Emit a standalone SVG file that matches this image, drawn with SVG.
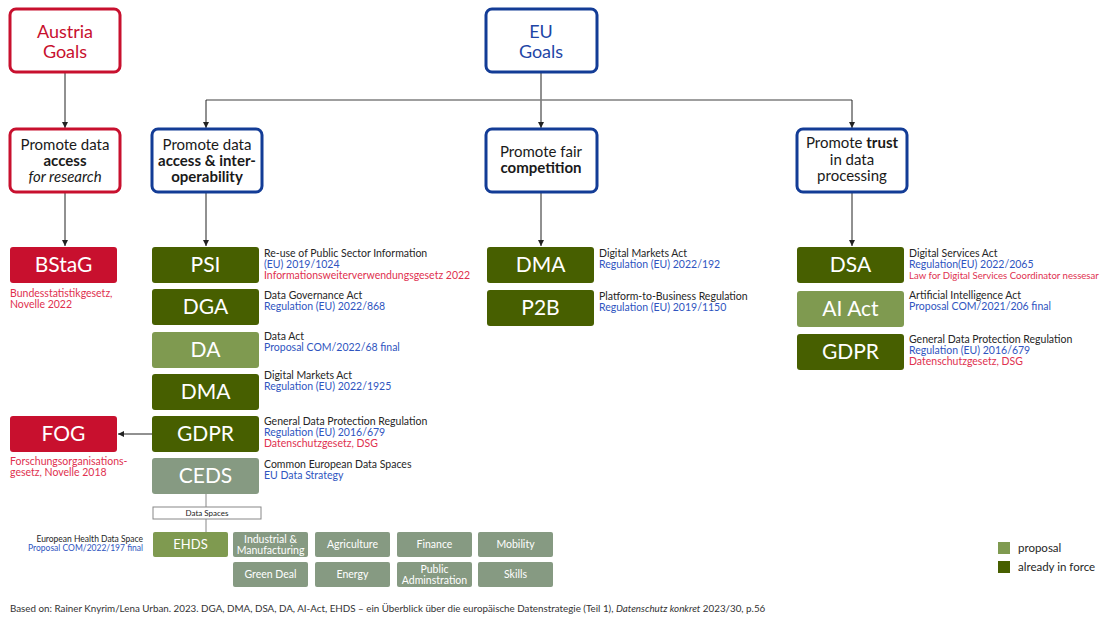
<svg xmlns="http://www.w3.org/2000/svg" width="1114" height="618" viewBox="0 0 1114 618">
<style>
text{font-family:Lato,"Open Sans",sans-serif}
.goal{fill:#fff;stroke-width:3}
.red{stroke:#c8102e}
.blue{stroke:#133c96}
.gt{font-size:18px;text-anchor:middle}
.gr{fill:#c8102e}
.gb{fill:#1f46a6}
.pt{font-size:15px;text-anchor:middle;fill:#1a1a1a}
.b{font-weight:bold}
.dk{fill:#475f00}
.lt{fill:#7f9a50}
.gy{fill:#869a82}
.rd{fill:#c8102e}
.lw{font-size:21px;fill:#fff;text-anchor:middle}
.lb{font-size:10.5px}
.k{fill:#262626}
.bl{fill:#2f55c0}
.rt{fill:#e0314f}
.ds{font-size:10.5px;fill:#fff;text-anchor:middle}
.con{stroke:#222;stroke-width:1;fill:none}
</style>
<defs>
<marker id="ah" viewBox="0 0 10 10" refX="10" refY="5" markerWidth="6" markerHeight="6" orient="auto" markerUnits="userSpaceOnUse">
<path d="M0,0 L10,5 L0,10 z" fill="#222"/>
</marker>
</defs>
<rect width="1114" height="618" fill="#fff"/>

<g id="connectors">
<path class="con" d="M65,72 V128" marker-end="url(#ah)"/>
<path class="con" d="M541,72 V128" marker-end="url(#ah)"/>
<path d="M206,100 H852" stroke="#7f7f7f" stroke-width="1.5" fill="none"/>
<path class="con" d="M206,100 V128" marker-end="url(#ah)"/>
<path class="con" d="M852,100 V128" marker-end="url(#ah)"/>
<path class="con" d="M65,192 V246" marker-end="url(#ah)"/>
<path class="con" d="M206,192 V246" marker-end="url(#ah)"/>
<path class="con" d="M541,192 V246" marker-end="url(#ah)"/>
<path class="con" d="M852,192 V246" marker-end="url(#ah)"/>
<path class="con" d="M152,434 H118" marker-end="url(#ah)"/>
<path d="M206,494 V507 M206,519 V532" stroke="#888" stroke-width="1" fill="none"/>
</g>

<g id="austria-goals">
<rect class="goal red" x="10" y="9" width="110" height="63" rx="6"/>
<text class="gt gr" x="65" y="38">Austria</text>
<text class="gt gr" x="65" y="58">Goals</text>
</g>
<g id="eu-goals">
<rect class="goal blue" x="486" y="9" width="111" height="63" rx="6"/>
<text class="gt gb" x="541" y="38">EU</text>
<text class="gt gb" x="541" y="58">Goals</text>
</g>

<g id="goal-access-research">
<rect class="goal red" x="10" y="129" width="110" height="63" rx="6"/>
<text class="pt" x="65" y="150">Promote data</text>
<text class="pt b" x="65" y="166">access</text>
<text class="pt" x="65" y="182" font-style="italic">for research</text>
</g>
<g id="goal-access-interop">
<rect class="goal blue" x="152" y="129" width="110" height="63" rx="6"/>
<text class="pt" x="207" y="150">Promote data</text>
<text class="pt b" x="207" y="166">access &amp; inter-</text>
<text class="pt b" x="207" y="182">operability</text>
</g>
<g id="goal-competition">
<rect class="goal blue" x="486" y="129" width="111" height="63" rx="6"/>
<text class="pt" x="541" y="157">Promote fair</text>
<text class="pt b" x="541" y="173">competition</text>
</g>
<g id="goal-trust">
<rect class="goal blue" x="797" y="129" width="110" height="63" rx="6"/>
<text class="pt" x="852" y="148">Promote <tspan class="b">trust</tspan></text>
<text class="pt" x="852" y="165">in data</text>
<text class="pt" x="852" y="181">processing</text>
</g>

<g id="bstag">
<rect class="rd" x="10" y="247" width="107" height="36" rx="3"/>
<text class="lw" x="63.5" y="272">BStaG</text>
<text class="lb rt" x="10" y="297">Bundesstatistikgesetz,</text>
<text class="lb rt" x="10" y="308">Novelle 2022</text>
</g>
<g id="fog">
<rect class="rd" x="10" y="416" width="107" height="36" rx="3"/>
<text class="lw" x="63.5" y="441">FOG</text>
<text class="lb rt" x="10" y="465">Forschungsorganisations-</text>
<text class="lb rt" x="10" y="476">gesetz, Novelle 2018</text>
</g>

<g id="psi">
<rect class="dk" x="152" y="247" width="107" height="36" rx="3"/>
<text class="lw" x="205.5" y="272">PSI</text>
<text class="lb k" x="264" y="257">Re-use of Public Sector Information</text>
<text class="lb bl" x="264" y="268">(EU) 2019/1024</text>
<text class="lb rt" x="264" y="279">Informationsweiterverwendungsgesetz 2022</text>
</g>
<g id="dga">
<rect class="dk" x="152" y="289" width="107" height="36" rx="3"/>
<text class="lw" x="205.5" y="314">DGA</text>
<text class="lb k" x="264" y="299">Data Governance Act</text>
<text class="lb bl" x="264" y="310">Regulation (EU) 2022/868</text>
</g>
<g id="da">
<rect class="lt" x="152" y="332" width="107" height="36" rx="3"/>
<text class="lw" x="205.5" y="357">DA</text>
<text class="lb k" x="264" y="340">Data Act</text>
<text class="lb bl" x="264" y="351">Proposal COM/2022/68 final</text>
</g>
<g id="dma-1">
<rect class="dk" x="152" y="374" width="107" height="36" rx="3"/>
<text class="lw" x="205.5" y="399">DMA</text>
<text class="lb k" x="264" y="379">Digital Markets Act</text>
<text class="lb bl" x="264" y="390">Regulation (EU) 2022/1925</text>
</g>
<g id="gdpr-1">
<rect class="dk" x="152" y="416" width="107" height="36" rx="3"/>
<text class="lw" x="205.5" y="441">GDPR</text>
<text class="lb k" x="264" y="425">General Data Protection Regulation</text>
<text class="lb bl" x="264" y="436">Regulation (EU) 2016/679</text>
<text class="lb rt" x="264" y="447">Datenschutzgesetz, DSG</text>
</g>
<g id="ceds">
<rect class="gy" x="152" y="458" width="107" height="36" rx="3"/>
<text class="lw" x="205.5" y="483">CEDS</text>
<text class="lb k" x="264" y="468">Common European Data Spaces</text>
<text class="lb bl" x="264" y="479">EU Data Strategy</text>
</g>

<g id="dma-2">
<rect class="dk" x="487" y="247" width="107" height="36" rx="3"/>
<text class="lw" x="540.5" y="272">DMA</text>
<text class="lb k" x="599" y="257">Digital Markets Act</text>
<text class="lb bl" x="599" y="268">Regulation (EU) 2022/192</text>
</g>
<g id="p2b">
<rect class="dk" x="487" y="290" width="107" height="36" rx="3"/>
<text class="lw" x="540.5" y="315">P2B</text>
<text class="lb k" x="599" y="300">Platform-to-Business Regulation</text>
<text class="lb bl" x="599" y="311">Regulation (EU) 2019/1150</text>
</g>

<g id="dsa">
<rect class="dk" x="797" y="247" width="107" height="36" rx="3"/>
<text class="lw" x="850.5" y="272">DSA</text>
<text class="lb k" x="909" y="257">Digital Services Act</text>
<text class="lb bl" x="909" y="268">Regulation(EU) 2022/2065</text>
<text class="rt" x="909" y="279" font-size="9.6">Law for Digital Services Coordinator nessesar</text>
</g>
<g id="ai-act">
<rect class="lt" x="797" y="291" width="107" height="36" rx="3"/>
<text class="lw" x="850.5" y="316">AI Act</text>
<text class="lb k" x="909" y="299">Artificial Intelligence Act</text>
<text class="lb bl" x="909" y="310">Proposal COM/2021/206 final</text>
</g>
<g id="gdpr-2">
<rect class="dk" x="797" y="334" width="107" height="36" rx="3"/>
<text class="lw" x="850.5" y="359">GDPR</text>
<text class="lb k" x="909" y="343">General Data Protection Regulation</text>
<text class="lb bl" x="909" y="354">Regulation (EU) 2016/679</text>
<text class="lb rt" x="909" y="365">Datenschutzgesetz, DSG</text>
</g>

<g id="data-spaces">
<rect x="153" y="507" width="108" height="12" fill="#fff" stroke="#888" stroke-width="1"/>
<text x="207" y="516" font-size="8" text-anchor="middle" fill="#222">Data Spaces</text>
</g>
<g id="ehds">
<rect class="lt" x="153" y="532" width="75" height="25" rx="2"/>
<text x="190.5" y="549" font-size="13" fill="#fff" text-anchor="middle">EHDS</text>
<text x="143" y="542" font-size="8.5" text-anchor="end" fill="#262626">European Health Data Space</text>
<text x="143" y="551" font-size="8.5" text-anchor="end" fill="#2f55c0">Proposal COM/2022/197 final</text>
</g>
<g id="ds-industrial"><rect class="gy" x="233" y="532" width="75" height="25" rx="2"/><text class="ds" x="270.5" y="543">Industrial &amp;</text><text class="ds" x="270.5" y="554">Manufacturing</text></g>
<g id="ds-agriculture"><rect class="gy" x="315" y="532" width="75" height="25" rx="2"/><text class="ds" x="352.5" y="548">Agriculture</text></g>
<g id="ds-finance"><rect class="gy" x="397" y="532" width="75" height="25" rx="2"/><text class="ds" x="434.5" y="548">Finance</text></g>
<g id="ds-mobility"><rect class="gy" x="478" y="532" width="75" height="25" rx="2"/><text class="ds" x="515.5" y="548">Mobility</text></g>
<g id="ds-green"><rect class="gy" x="233" y="562" width="75" height="25" rx="2"/><text class="ds" x="270.5" y="578">Green Deal</text></g>
<g id="ds-energy"><rect class="gy" x="315" y="562" width="75" height="25" rx="2"/><text class="ds" x="352.5" y="578">Energy</text></g>
<g id="ds-public"><rect class="gy" x="397" y="562" width="75" height="25" rx="2"/><text class="ds" x="434.5" y="573">Public</text><text class="ds" x="434.5" y="584">Adminstration</text></g>
<g id="ds-skills"><rect class="gy" x="478" y="562" width="75" height="25" rx="2"/><text class="ds" x="515.5" y="578">Skills</text></g>

<g id="legend">
<rect class="lt" x="998" y="542" width="12" height="12"/>
<text x="1018" y="552" font-size="11.5" fill="#262626">proposal</text>
<rect class="dk" x="998" y="561" width="12" height="12"/>
<text x="1018" y="571" font-size="11.5" fill="#262626">already in force</text>
</g>

<g id="footer">
<text x="10" y="612" font-size="9.8" fill="#333">Based on: Rainer Knyrim/Lena Urban. 2023. DGA, DMA, DSA, DA, AI-Act, EHDS – ein Überblick über die europäische Datenstrategie (Teil 1), <tspan font-style="italic">Datenschutz konkret</tspan> 2023/30, p.56</text>
</g>
</svg>
